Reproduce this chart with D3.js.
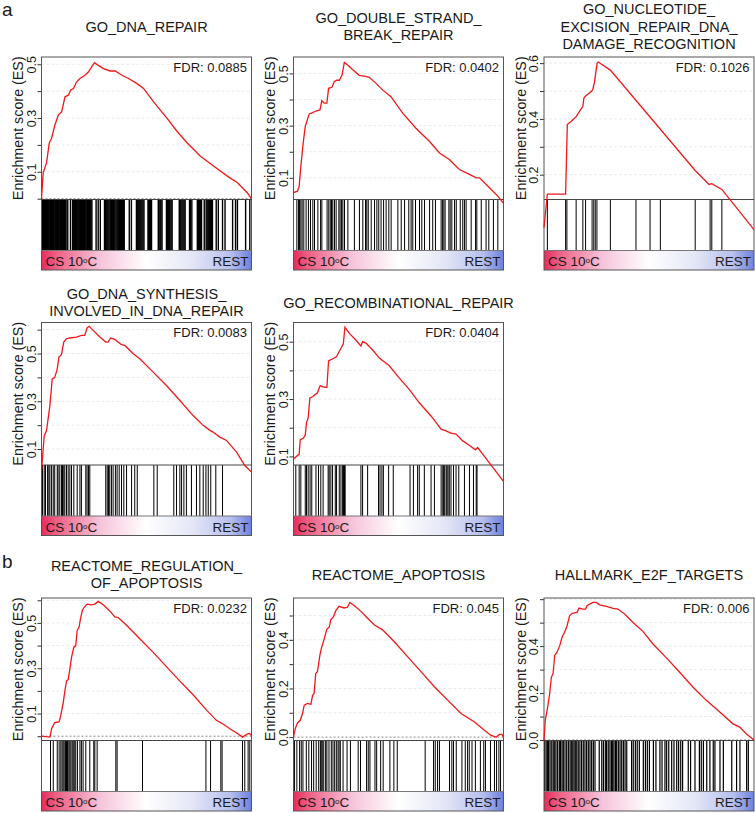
<!DOCTYPE html>
<html><head><meta charset="utf-8">
<script src="https://cdn.jsdelivr.net/npm/d3@7"></script>
<style>body{margin:0;background:#fff} svg{display:block} text{font-family:"Liberation Sans",Arial,Helvetica,sans-serif;fill:#1a1a1a}</style>
</head><body><svg id="c" width="755" height="813"></svg>
<script>
// ---------------- DATA ----------------
const titles = [
  ["GO_DNA_REPAIR"],
  ["GO_DOUBLE_STRAND_","BREAK_REPAIR"],
  ["GO_NUCLEOTIDE_","EXCISION_REPAIR_DNA_","DAMAGE_RECOGNITION"],
  ["GO_DNA_SYNTHESIS_","INVOLVED_IN_DNA_REPAIR"],
  ["GO_RECOMBINATIONAL_REPAIR"],
  ["REACTOME_REGULATION_","OF_APOPTOSIS"],
  ["REACTOME_APOPTOSIS"],
  ["HALLMARK_E2F_TARGETS"]
];
const fdrLabels = ["FDR: 0.0885","FDR: 0.0402","FDR: 0.1026","FDR: 0.0083","FDR: 0.0404","FDR: 0.0232","FDR: 0.045","FDR: 0.006"];
const sectionLabels = ["a","b"];
const yDomains = [[-0.003,0.527],[0.017,0.563],[0.111,0.622],[0.033,0.63],[0.07,0.567],[-0.019,0.61],[-0.014,0.572],[-0.002,0.605]];
const yTicks = [
  [0,0.1,0.2,0.3,0.4,0.5],[0.1,0.2,0.3,0.4,0.5],[0.2,0.3,0.4,0.5,0.6],[0.1,0.2,0.3,0.4,0.5,0.6],
  [0.1,0.2,0.3,0.4,0.5],[0,0.1,0.2,0.3,0.4,0.5,0.6],[0,0.1,0.2,0.3,0.4,0.5],[0,0.1,0.2,0.3,0.4,0.5,0.6]
];
const yTickLabels = [[0.1,0.3,0.5],[0.1,0.3,0.5],[0.2,0.4,0.6],[0.1,0.3,0.5],[0.1,0.3,0.5],[0.1,0.3,0.5],[0,0.2,0.4],[0,0.2,0.4]];
const rankRange = [0,1000];
const phenoLeft = "CS 10", phenoDeg = "o", phenoUnit = "C", phenoRight = "REST";

const es1 = [[0,0],[8,0.096],[24,0.133],[37,0.207],[48,0.225],[64,0.274],[80,0.311],[96,0.324],[112,0.379],[128,0.385],[139,0.404],[152,0.41],[167,0.434],[183,0.447],[207,0.459],[223,0.471],[239,0.49],[252,0.506],[271,0.496],[295,0.484],[327,0.475],[351,0.475],[383,0.459],[415,0.447],[455,0.428],[486,0.41],[534,0.36],[598,0.299],[646,0.25],[694,0.207],[757,0.158],[821,0.121],[885,0.084],[933,0.059],[980,0.022],[1000,0]];
const hits1 = [2,5,8,11,14,17,20,23,26,29,32,36,40,43,46,49,52,56,60,64,68,71,74,77,80,84,88,91,94,97,100,104,108,111,114,117,125,138,148,151,155,158,162,166,170,174,178,182,186,190,194,197,200,204,208,212,216,220,224,228,232,236,240,260,270,280,300,304,308,312,316,321,326,330,334,338,342,346,350,355,360,364,368,372,376,381,386,390,394,418,428,452,456,460,464,468,473,478,483,488,507,511,515,519,524,556,560,565,569,574,595,599,604,608,612,617,622,656,660,664,669,674,679,684,705,710,716,742,747,752,757,762,775,784,789,794,799,804,809,814,832,842,862,874,910,924,933,972,992];

const es2 = [[0,0.043],[19,0.049],[27,0.068],[35,0.144],[46,0.233],[56,0.297],[62,0.312],[75,0.345],[91,0.35],[107,0.356],[126,0.36],[135,0.396],[146,0.386],[159,0.386],[167,0.443],[183,0.447],[194,0.468],[205,0.474],[218,0.474],[231,0.493],[242,0.542],[258,0.532],[281,0.515],[313,0.493],[337,0.49],[361,0.485],[393,0.462],[424,0.437],[464,0.411],[520,0.348],[583,0.29],[647,0.24],[695,0.195],[742,0.17],[790,0.132],[838,0.113],[870,0.1],[886,0.1],[933,0.062],[973,0.03],[1000,0.002]];
const hits2 = [16,24,29,35,41,49,60,71,81,92,100,116,129,135,160,168,175,181,187,195,203,216,222,229,235,243,259,290,314,330,343,349,356,370,386,397,406,417,429,441,454,465,497,513,529,549,560,568,581,600,611,624,648,663,676,703,710,716,722,740,746,754,767,775,794,806,814,822,846,867,873,894,917,930,952,973];

const es3 = [[0,0.01],[16,0.13],[103,0.13],[111,0.38],[130,0.392],[153,0.408],[177,0.436],[185,0.445],[190,0.475],[198,0.482],[225,0.498],[232,0.505],[240,0.53],[253,0.6],[258,0.604],[316,0.575],[720,0.215],[786,0.165],[799,0.168],[847,0.147],[1000,0.003]];
const hits3 = [16,103,109,153,185,198,229,237,244,252,316,438,505,554,720,791,799,847];

const es4 = [[0,0.01],[13,0.156],[24,0.177],[40,0.282],[51,0.394],[63,0.399],[75,0.436],[83,0.485],[95,0.495],[106,0.548],[119,0.562],[135,0.565],[167,0.569],[190,0.576],[206,0.576],[217,0.607],[227,0.614],[246,0.597],[278,0.569],[306,0.548],[317,0.548],[329,0.565],[349,0.559],[381,0.537],[397,0.534],[437,0.499],[468,0.478],[532,0.422],[595,0.366],[659,0.303],[722,0.24],[770,0.199],[802,0.178],[817,0.171],[849,0.15],[881,0.136],[929,0.087],[968,0.031],[1000,0.003]];
const hits4 = [5,13,19,29,35,40,48,56,63,75,79,87,95,100,106,111,119,127,135,143,154,170,183,190,211,217,224,230,306,313,319,325,333,341,352,360,370,381,392,405,429,444,456,535,551,630,643,659,667,678,690,714,738,754,770,783,794,806,830,862];

const es5 = [[0,0.091],[27,0.108],[32,0.158],[46,0.163],[56,0.174],[62,0.218],[70,0.235],[78,0.304],[91,0.308],[114,0.322],[127,0.347],[142,0.342],[159,0.341],[167,0.433],[183,0.439],[205,0.448],[226,0.477],[237,0.492],[245,0.55],[266,0.529],[297,0.506],[321,0.485],[329,0.5],[345,0.495],[377,0.471],[409,0.443],[456,0.416],[504,0.373],[552,0.333],[599,0.287],[655,0.241],[703,0.195],[726,0.189],[750,0.181],[774,0.178],[806,0.154],[837,0.139],[866,0.123],[877,0.131],[901,0.108],[949,0.062],[1000,0.013]];
const hits5 = [11,27,35,56,62,70,79,87,107,119,130,141,165,170,178,186,199,205,218,226,234,238,243,246,321,329,353,405,412,421,428,453,475,555,571,591,599,623,655,671,703,711,715,720,727,731,736,742,750,762,774,787,814,838,857,870,874];

const es6 = [[0,0],[40,-0.004],[48,0.033],[63,0.06],[84,0.063],[92,0.093],[103,0.145],[111,0.198],[119,0.243],[127,0.25],[135,0.295],[143,0.348],[154,0.393],[163,0.4],[170,0.467],[179,0.482],[186,0.52],[195,0.557],[206,0.572],[217,0.583],[238,0.58],[254,0.583],[270,0.595],[294,0.58],[325,0.553],[349,0.527],[365,0.524],[405,0.49],[468,0.43],[532,0.37],[595,0.307],[659,0.243],[722,0.183],[786,0.115],[833,0.07],[857,0.058],[897,0.033],[937,0.01],[957,-0.004],[976,0.007],[989,0.013],[1000,0.003]];
const hits6 = [43,56,75,84,92,98,103,108,114,119,124,130,135,140,146,151,156,163,171,183,190,198,211,230,249,254,265,354,360,481,783,805,854,860,957,968,984,992];

const es7 = [[0,0],[8,0.034],[19,0.058],[32,0.069],[43,0.097],[51,0.131],[67,0.138],[83,0.135],[91,0.172],[98,0.179],[106,0.262],[114,0.269],[126,0.338],[133,0.366],[146,0.403],[159,0.444],[170,0.452],[178,0.483],[190,0.494],[202,0.521],[217,0.538],[241,0.531],[257,0.534],[268,0.554],[289,0.541],[321,0.517],[352,0.49],[384,0.462],[424,0.441],[479,0.393],[543,0.331],[607,0.269],[671,0.207],[734,0.152],[798,0.097],[862,0.062],[909,0.028],[941,0.007],[965,0],[981,0.011],[992,0.011],[1000,0]];
const hits7 = [5,16,29,37,45,61,73,86,96,108,120,128,132,137,144,153,159,169,180,188,196,204,212,217,223,236,255,271,308,319,348,356,364,388,396,415,427,459,478,494,627,667,675,686,695,743,754,762,775,802,818,829,837,850,866,890,906,914,938,957,967,978,986];

const es8 = [[0,0],[6,0.084],[16,0.133],[27,0.197],[35,0.268],[43,0.282],[51,0.36],[62,0.374],[75,0.402],[86,0.438],[98,0.459],[110,0.487],[122,0.53],[135,0.54],[157,0.544],[167,0.562],[186,0.558],[198,0.558],[205,0.572],[217,0.579],[233,0.586],[249,0.586],[265,0.576],[297,0.569],[329,0.561],[352,0.558],[384,0.537],[424,0.501],[471,0.463],[519,0.409],[583,0.35],[646,0.289],[710,0.225],[773,0.169],[837,0.119],[900,0.069],[932,0.055],[963,0.027],[1000,0]];
const hits8 = [3,10,16,22,29,37,44,51,57,65,73,79,86,92,100,108,116,124,130,137,143,149,156,163,171,179,187,195,203,211,219,227,235,243,263,275,283,292,298,306,314,321,327,333,340,346,354,362,370,378,386,394,417,425,435,444,454,473,483,492,502,521,533,552,562,576,584,594,608,619,632,641,651,660,687,698,719,740,749,759,775,790,806,814,838,854,894,917,933,965,973];

const esCurves = [es1,es2,es3,es4,es5,es6,es7,es8];
const hitSets = [hits1,hits2,hits3,hits4,hits5,hits6,hits7,hits8];

// ---------------- LAYOUT ----------------
const cols = [{l:41.5,r:251.5},{l:293.5,r:503.5},{l:544,r:754}];
const rows = [{top:57,titleMid:31.5},{top:322.5,titleMid:307.5},{top:598,titleMid:579.5}];
const cell = [[0,0],[0,1],[0,2],[1,0],[1,1],[2,0],[2,1],[2,2]];
const hitWidths = [1.4,1,1,1,1,1,1,1.2];
const esH = 142.5, hitH = 51, gradH = 19.5;

const svg = d3.select("#c");
const defs = svg.append("defs");
const grad = defs.append("linearGradient").attr("id","pg").attr("x1","0%").attr("x2","100%");
[["0%","#e52c5c"],["7%","#ee5f84"],["28%","#f6c4da"],["50%","#ffffff"],["72%","#e3e6f6"],["90%","#b6bfee"],["100%","#6d80df"]]
  .forEach(([o,c])=>grad.append("stop").attr("offset",o).attr("stop-color",c));

svg.append("text").attr("x",2).attr("y",16).attr("font-size",19).text(sectionLabels[0]);
svg.append("text").attr("x",2).attr("y",568).attr("font-size",19).text(sectionLabels[1]);

esCurves.forEach((curve,i)=>{
  const [ri,ci] = cell[i];
  const L = cols[ci].l, R = cols[ci].r, T = rows[ri].top;
  const esB = T+esH, hitB = esB+hitH, gB = hitB+gradH;
  const x = d3.scaleLinear().domain(rankRange).range([L,R]);
  const y = d3.scaleLinear().domain(yDomains[i]).range([esB,T]);
  const g = svg.append("g");

  const tl = titles[i];
  tl.forEach((t,k)=>{
    g.append("text").attr("x",(L+R)/2).attr("y",rows[ri].titleMid+(k-(tl.length-1)/2)*17.5)
      .attr("text-anchor","middle").attr("font-size",14.5).text(t);
  });

  yTicks[i].filter(v=>v!==0).forEach(v=>{
    g.append("line").attr("x1",L).attr("x2",R).attr("y1",y(v)).attr("y2",y(v))
      .attr("stroke","#e4e4e4").attr("stroke-width",0.8).attr("stroke-dasharray","3,2");
  });
  if (yDomains[i][0] <= 0) {
    g.append("line").attr("x1",L).attr("x2",R).attr("y1",y(0)).attr("y2",y(0))
      .attr("stroke","#888").attr("stroke-width",1).attr("stroke-dasharray","2,2");
  }

  const ax = d3.axisLeft(y).tickValues(yTicks[i]).tickSize(4)
    .tickFormat(v => yTickLabels[i].some(l=>Math.abs(l-v)<1e-9) ? d3.format(".1f")(v) : "");
  const ag = g.append("g").attr("transform",`translate(${L},0)`).call(ax);
  ag.select(".domain").remove();
  ag.selectAll(".tick line").attr("stroke","#333");
  ag.selectAll(".tick text").attr("font-size",12.5).attr("fill","#1a1a1a")
    .attr("font-family","'Liberation Sans',Arial,sans-serif")
    .attr("x",0).attr("dy",0).attr("text-anchor","middle")
    .attr("transform","translate(-6,0) rotate(-90)");

  g.append("text").attr("transform",`translate(${L-18.5},${(T+esB)/2}) rotate(-90)`)
    .attr("text-anchor","middle").attr("font-size",14.3).text("Enrichment score (ES)");

  g.selectAll("line.hit").data(hitSets[i]).join("line").attr("class","hit")
    .attr("x1",d=>x(d)).attr("x2",d=>x(d)).attr("y1",esB).attr("y2",hitB)
    .attr("stroke","#000").attr("stroke-width",hitWidths[i]);

  g.append("rect").attr("x",L).attr("y",hitB).attr("width",R-L).attr("height",gradH)
    .attr("fill","url(#pg)");
  const lt = g.append("text").attr("x",L+4).attr("y",gB-4).attr("font-size",13.5);
  lt.append("tspan").text(phenoLeft);
  lt.append("tspan").attr("font-size",8).attr("dy",-3).text(phenoDeg);
  lt.append("tspan").attr("dy",3).text(phenoUnit);
  g.append("text").attr("x",R-3).attr("y",gB-4).attr("text-anchor","end").attr("font-size",13.5).text(phenoRight);

  g.append("rect").attr("x",L).attr("y",T).attr("width",R-L).attr("height",gB-T)
    .attr("fill","none").attr("stroke","#555").attr("stroke-width",1);
  g.append("line").attr("x1",L).attr("x2",R).attr("y1",esB).attr("y2",esB).attr("stroke","#444");
  g.append("line").attr("x1",L).attr("x2",R).attr("y1",hitB).attr("y2",hitB).attr("stroke","#777");

  g.append("path").datum(curve)
    .attr("d",d3.line().x(d=>x(d[0])).y(d=>y(d[1])))
    .attr("fill","none").attr("stroke","#f01818").attr("stroke-width",1.3);

  g.append("text").attr("x",R-4.5).attr("y",T+14.5).attr("text-anchor","end").attr("font-size",13).text(fdrLabels[i]);
});
</script></body></html>
